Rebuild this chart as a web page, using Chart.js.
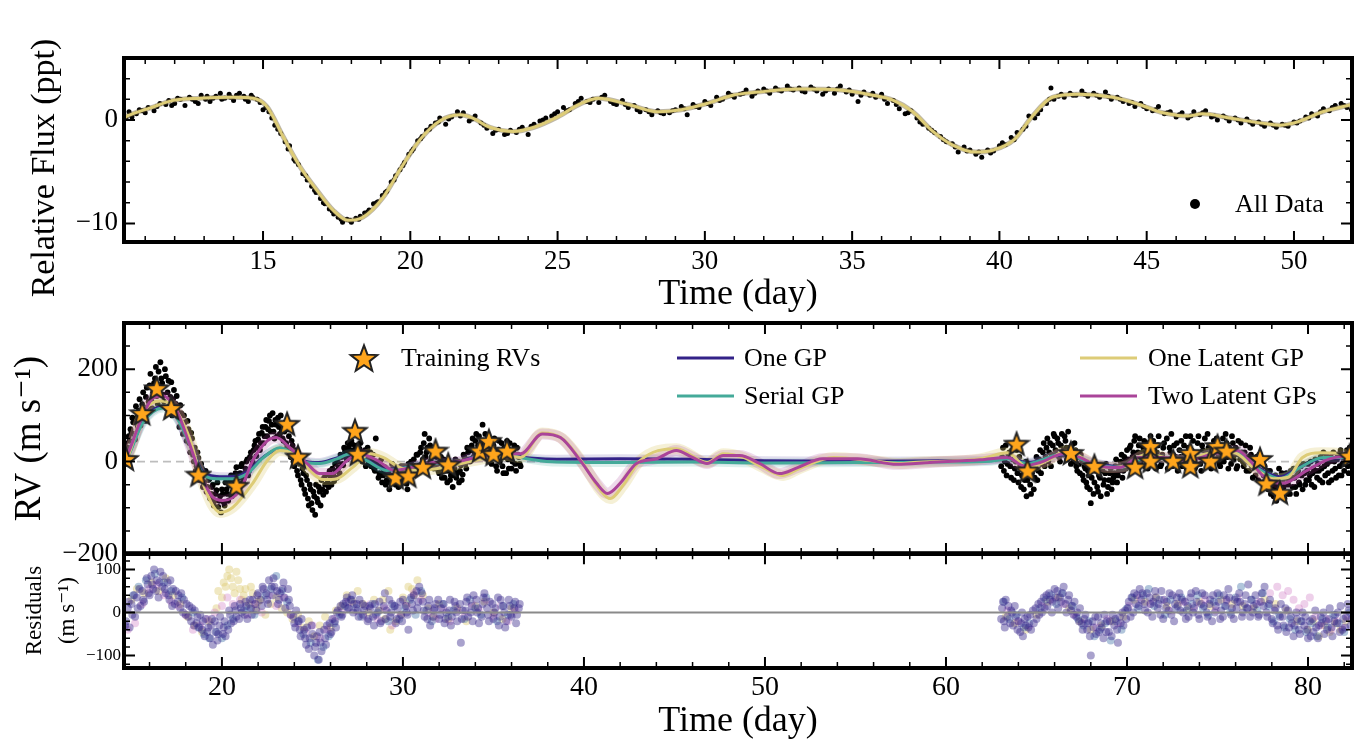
<!DOCTYPE html>
<html>
<head>
<meta charset="utf-8">
<title>Flux and RV GP fits</title>
<script src="https://cdn.jsdelivr.net/npm/chart.js@4.4.0/dist/chart.umd.min.js"></script>
<style>
  body { margin: 0; background: #fff; width: 1369px; height: 743px; overflow: hidden; position: relative; }
  canvas { position: absolute; left: 0; }
  #fluxChart { top: 0; }
  #rvChart { top: 300px; }
  #resChart { top: 540px; }
</style>
</head>
<body>
<canvas id="fluxChart" width="1369" height="320"></canvas>
<canvas id="rvChart" width="1369" height="280"></canvas>
<canvas id="resChart" width="1369" height="203"></canvas>
<script>
// ---- photometry (ppt) ----
var fluxData = [[10.35,0.2],[10.45,0.8],[10.55,0.3],[10.7,0.6],[10.9,0.9],[11.1,1.2],[11.3,0.9],[11.5,1.6],[11.7,1.5],[11.8,1.9],[12.0,1.6],[12.2,2.0],[12.35,1.4],[12.5,2.2],[12.7,1.8],[12.9,2.4],[13.05,2.0],[13.2,1.8],[13.4,2.3],[13.55,2.6],[13.7,2.1],[13.85,2.5],[14.0,1.9],[14.2,2.6],[14.35,2.3],[14.5,1.8],[14.65,2.2],[14.8,2.0],[15.0,1.0],[15.2,0.8],[15.4,-0.5],[15.6,-1.3],[15.75,-2.1],[15.9,-2.5],[16.05,-3.8],[16.2,-4.3],[16.35,-5.2],[16.5,-5.8],[16.65,-6.4],[16.8,-7.0],[16.95,-7.6],[17.1,-8.1],[17.25,-8.6],[17.4,-9.1],[17.55,-9.4],[17.7,-9.9],[17.85,-9.6],[18.0,-9.9],[18.15,-9.5],[18.3,-9.3],[18.45,-9.0],[18.6,-8.7],[18.75,-8.1],[18.9,-7.9],[19.05,-7.3],[19.2,-6.9],[19.35,-6.0],[19.5,-5.4],[19.65,-4.8],[19.8,-4.1],[19.95,-3.3],[20.1,-2.8],[20.25,-2.0],[20.4,-1.6],[20.55,-1.0],[20.7,-0.6],[20.85,-0.3],[21.0,0.2],[21.2,-0.4],[21.4,0.3],[21.6,0.8],[21.8,0.7],[22.0,-0.1],[22.2,0.4],[22.4,-0.3],[22.6,-0.8],[22.8,-1.3],[23.0,-0.9],[23.2,-1.4],[23.4,-1.0],[23.6,-1.2],[23.8,-0.7],[24.0,-1.4],[24.2,-0.4],[24.4,-0.1],[24.6,0.2],[24.8,0.4],[25.0,0.8],[25.2,1.2],[25.4,1.0],[25.6,1.6],[25.8,2.1],[26.0,1.8],[26.2,2.0],[26.4,1.7],[26.6,2.4],[26.8,1.8],[27.0,1.5],[27.2,1.9],[27.4,1.2],[27.6,1.4],[27.8,0.8],[28.0,1.0],[28.2,0.5],[28.4,0.9],[28.6,0.6],[28.8,0.7],[29.0,1.0],[29.2,1.3],[29.4,0.5],[29.6,1.5],[29.8,1.2],[30.0,1.8],[30.2,1.4],[30.4,2.2],[30.6,2.0],[30.8,2.6],[31.0,2.2],[31.2,2.5],[31.4,2.9],[31.6,2.3],[31.8,2.8],[32.0,3.0],[32.2,2.6],[32.4,3.1],[32.6,2.8],[32.8,3.3],[33.0,2.9],[33.2,3.1],[33.4,2.7],[33.6,3.2],[33.8,2.8],[34.0,2.5],[34.2,3.0],[34.4,2.6],[34.6,3.3],[34.8,2.7],[35.0,2.5],[35.2,1.8],[35.4,2.7],[35.6,2.4],[35.8,2.2],[36.0,2.5],[36.2,1.6],[36.4,1.9],[36.6,1.1],[36.8,0.6],[37.0,0.9],[37.2,0.2],[37.4,-0.4],[37.6,-0.8],[37.8,-1.2],[38.0,-1.6],[38.2,-2.1],[38.4,-2.3],[38.6,-3.1],[38.8,-2.6],[39.0,-2.9],[39.2,-3.3],[39.4,-3.6],[39.6,-2.9],[39.8,-3.0],[40.0,-2.5],[40.2,-2.4],[40.4,-1.7],[40.6,-1.2],[40.8,-0.9],[41.0,0.4],[41.2,0.2],[41.4,1.0],[41.6,1.6],[41.75,3.1],[41.85,2.0],[42.0,2.3],[42.2,2.2],[42.4,2.6],[42.6,2.4],[42.8,2.8],[43.0,2.3],[43.2,2.6],[43.4,2.2],[43.6,2.7],[43.8,2.0],[44.0,2.2],[44.2,1.8],[44.4,1.6],[44.6,1.3],[44.8,1.6],[45.0,1.1],[45.2,0.9],[45.4,1.3],[45.6,0.6],[45.8,0.8],[46.0,0.3],[46.2,0.7],[46.4,0.2],[46.6,0.8],[46.8,0.5],[47.0,0.9],[47.2,0.3],[47.4,0.0],[47.6,0.4],[47.8,-0.1],[48.0,0.2],[48.2,-0.3],[48.4,0.1],[48.6,-0.4],[48.8,-0.2],[49.0,-0.6],[49.2,-0.3],[49.4,-0.7],[49.6,-0.4],[49.8,-0.6],[50.0,-0.2],[50.2,-0.1],[50.4,0.3],[50.6,0.6],[50.8,0.4],[51.0,1.1],[51.2,0.9],[51.4,1.4],[51.6,1.6],[51.8,1.2],[51.95,1.0],
  [10.5,0.5],[10.8,1.0],[11.0,0.7],[11.4,1.3],[11.9,1.4],[12.1,2.1],[12.6,2.0],[12.8,1.6],[13.1,2.3],[13.3,2.1],[13.6,2.0],[13.9,2.2],[14.1,2.4],[14.4,2.0],[14.6,2.4],[14.9,1.7],[15.1,1.2],[15.3,0.2],[15.5,-0.9],[15.85,-2.8],[16.1,-4.0],[16.45,-5.4],[16.75,-6.8],[17.05,-8.0],[17.35,-8.8],[17.65,-9.6],[17.95,-9.7],[18.25,-9.6],[18.55,-8.9],[18.85,-8.0],[19.15,-7.0],[19.45,-5.8],[19.75,-4.4],[20.05,-3.0],[20.35,-1.8],[20.65,-0.9],[20.95,-0.2],[21.3,0.1],[21.7,0.4],[22.1,0.1],[22.5,-0.5],[22.9,-1.0],[23.3,-1.3],[23.7,-0.9],[24.1,-0.6],[24.5,0.0],[24.9,0.6],[25.3,0.9],[25.7,1.8],[26.1,1.7],[26.5,2.2],[26.9,1.6],[27.3,1.5],[27.7,1.0],[28.1,0.8],[28.5,0.7],[28.9,0.9],[29.3,1.1],[29.7,1.3],[30.1,1.6],[30.5,1.9],[30.9,2.4],[31.3,2.6],[31.7,2.6],[32.1,2.8],[32.5,2.9],[32.9,3.0],[33.3,2.8],[33.7,3.0],[34.1,2.8],[34.5,3.0],[34.9,2.9],[35.3,2.4],[35.7,2.6],[36.1,2.0],[36.5,1.5],[36.9,0.7],[37.3,-0.2],[37.7,-1.0],[38.1,-1.9],[38.5,-2.6],[38.9,-3.0],[39.3,-3.1],[39.7,-3.2],[40.1,-2.2],[40.5,-1.9],[40.9,-0.6],[41.3,0.6],[41.7,2.0],[42.1,2.5],[42.5,2.4],[42.9,2.5],[43.3,2.4],[43.7,2.3],[44.1,2.0],[44.5,1.7],[44.9,1.3],[45.3,1.0],[45.7,0.7],[46.1,0.5],[46.5,0.4],[46.9,0.7],[47.3,0.4],[47.7,0.2],[48.1,0.0],[48.5,-0.2],[48.9,-0.4],[49.3,-0.5],[49.7,-0.5],[50.1,-0.3],[50.5,0.2],[50.9,0.8],[51.3,1.2],[51.7,1.4]];
var fluxModel = [[10.28,0.2],[10.4,0.4],[11.2,1.2],[11.95,1.9],[12.86,2.1],[13.98,2.2],[14.66,2.1],[15.13,1.3],[15.68,-1.6],[16.25,-4.5],[16.83,-6.8],[17.37,-8.7],[17.88,-9.7],[18.39,-9.4],[19.07,-7.5],[19.65,-4.8],[20.33,-1.9],[21.0,-0.1],[21.7,0.5],[22.1,0.2],[22.7,-0.7],[23.5,-1.1],[24.2,-0.7],[25.0,0.3],[25.8,1.6],[26.4,2.1],[27.4,1.5],[28.4,0.8],[29.2,1.0],[30.07,1.6],[30.95,2.4],[31.8,2.7],[33.2,3.0],[34.6,2.9],[35.7,2.4],[36.4,1.9],[37.06,0.8],[37.7,-1.0],[38.4,-2.4],[39.2,-3.1],[39.8,-2.9],[40.5,-1.9],[41.1,0.3],[41.8,2.2],[42.7,2.5],[43.85,2.2],[44.75,1.5],[45.55,0.7],[46.4,0.4],[46.9,0.6],[47.8,0.2],[48.9,-0.3],[49.5,-0.5],[50.1,-0.2],[50.98,0.8],[51.97,1.5]];

// ---- radial velocities (m/s), two observing seasons ----
var rvSeason1 = [[14.6,18],[14.7,-5],[14.8,30],[14.9,45],[15.0,62],[15.1,85],[15.2,48],[15.3,95],[15.4,110],[15.5,78],[15.6,124],[15.7,102],[15.8,140],[15.9,118],[16.0,165],[16.1,132],[16.2,150],[16.3,180],[16.4,142],[16.5,195],[16.55,160],[16.6,215],[16.7,170],[16.8,130],[16.9,185],[17.0,150],[17.1,120],[17.2,172],[17.3,135],[17.4,105],[17.5,142],[17.6,95],[17.7,122],[17.8,80],[17.9,100],[18.0,65],[18.1,88],[18.2,40],[18.3,62],[18.4,15],[18.5,30],[18.6,-10],[18.7,8],[18.8,-30],[18.9,-15],[19.0,-45],[19.1,-20],[19.2,-55],[19.3,-38],[19.4,-70],[19.5,-50],[19.6,-85],[19.7,-62],[19.8,-98],[19.9,-75],[20.0,-60],[20.1,-88],[20.2,-45],[20.3,-70],[20.4,-52],[20.5,-30],[20.6,-65],[20.7,-40],[20.8,-12],[20.9,-48],[21.0,-25],[21.1,-5],[21.2,-38],[21.3,-15],[21.4,5],[21.5,-20],[21.6,20],[21.7,-2],[21.8,35],[21.9,12],[22.0,48],[22.1,25],[22.2,62],[22.3,40],[22.4,75],[22.5,55],[22.6,88],[22.7,65],[22.8,105],[22.9,50],[23.0,80],[23.1,95],[23.2,60],[23.3,70],[23.4,45],[23.5,85],[23.6,30],[23.7,55],[23.8,10],[23.9,35],[24.0,-10],[24.1,20],[24.2,-30],[24.3,-5],[24.4,-50],[24.5,-25],[24.6,-70],[24.7,-40],[24.8,-95],[24.9,-60],[25.0,-105],[25.1,-75],[25.2,-50],[25.3,-88],[25.4,-65],[25.5,-40],[25.6,-72],[25.7,-50],[25.8,-28],[25.9,-55],[26.0,-35],[26.1,-15],[26.2,-42],[26.3,-20],[26.4,0],[26.5,-25],[26.6,10],[26.7,-8],[26.8,22],[26.9,5],[27.0,30],[27.1,15],[27.2,38],[27.3,20],[27.4,32],[27.5,10],[27.6,28],[27.7,18],[27.8,5],[27.9,25],[28.0,12],[28.1,-5],[28.2,20],[28.3,2],[28.4,-15],[28.5,50],[28.6,-10],[28.7,-25],[28.8,5],[28.9,-30],[29.0,-12],[29.1,-40],[29.2,-20],[29.3,-45],[29.4,-5],[29.5,-35],[29.6,-50],[29.7,-25],[29.8,-42],[29.9,-10],[30.0,-38],[30.1,-20],[30.2,-48],[30.3,-5],[30.4,-30],[30.5,-15],[30.6,5],[30.7,-25],[30.8,15],[30.9,-8],[31.0,30],[31.1,5],[31.2,60],[31.3,20],[31.4,-5],[31.5,35],[31.6,10],[31.7,-15],[31.8,25],[31.9,-5],[32.0,-25],[32.1,10],[32.2,-15],[32.3,-35],[32.4,0],[32.5,-20],[32.6,-40],[32.7,-10],[32.8,-30],[32.9,5],[33.0,-25],[33.1,-45],[33.2,-8],[33.3,-28],[33.4,10],[33.5,-15],[33.6,20],[33.7,0],[33.8,35],[33.9,10],[34.0,45],[34.1,20],[34.2,55],[34.3,30],[34.4,80],[34.5,40],[34.6,15],[34.7,55],[34.8,25],[34.9,-5],[35.0,35],[35.1,10],[35.2,-20],[35.3,45],[35.4,15],[35.5,-10],[35.6,30],[35.7,-25],[35.8,5],[35.9,40],[36.0,-15],[36.1,20],[36.2,-5],[36.3,30],[36.4,10],[36.5,-10],
  [14.65,40],[14.75,20],[14.85,55],[14.95,70],[15.05,95],[15.15,60],[15.25,120],[15.35,75],[15.45,135],[15.55,100],[15.65,150],[15.75,88],[15.85,160],[15.95,130],[16.05,190],[16.15,115],[16.25,170],[16.35,205],[16.45,125],[16.65,180],[16.75,145],[16.85,200],[16.95,115],[17.05,175],[17.15,140],[17.25,100],[17.35,155],[17.45,125],[17.55,110],[17.65,75],[17.75,105],[17.85,60],[17.95,85],[18.05,45],[18.15,70],[18.25,20],[18.35,50],[18.45,0],[18.55,-20],[18.65,20],[18.75,-40],[18.85,-5],[18.95,-55],[19.05,-30],[19.15,-65],[19.25,-40],[19.35,-80],[19.45,-55],[19.55,-95],[19.65,-70],[19.75,-45],[19.85,-85],[19.95,-110],[20.05,-70],[20.15,-95],[20.25,-60],[20.35,-85],[20.45,-40],[20.55,-75],[20.65,-50],[20.75,-25],[20.85,-60],[20.95,-35],[21.05,-10],[21.15,-45],[21.25,-25],[21.35,0],[21.45,-30],[21.55,10],[21.65,-10],[21.75,25],[21.85,45],[21.95,30],[22.05,60],[22.15,40],[22.25,75],[22.35,55],[22.45,90],[22.55,70],[22.65,100],[22.75,80],[22.85,65],[22.95,90],[23.05,55],[23.15,75],[23.25,100],[23.35,50],[23.45,65],[23.55,40],[23.65,70],[23.75,20],[23.85,45],[23.95,0],[24.05,25],[24.15,-20],[24.25,10],[24.35,-40],[24.45,-15],[24.55,-60],[24.65,-30],[24.75,-80],[24.85,-50],[24.95,-90],[25.05,-65],[25.15,-115],[25.25,-80],[25.35,-55],[25.45,-95],[25.55,-60],[25.65,-35],[25.75,-65],[25.85,-45],[25.95,-20],[26.05,-50],[26.15,-30],[26.25,-5],[26.35,-35],[26.45,-12],[26.55,15],[26.65,-5],[26.75,30],[26.85,10],[26.95,40],[27.05,20],[27.15,45],[27.25,25],[27.35,5],[27.45,35],[27.55,15],[27.65,40],[27.75,0],[27.85,20],[27.95,-10],[28.05,30],[28.15,10],[28.25,-10],[28.35,15],[28.45,-20],[28.55,0],[28.65,-35],[28.75,-10],[28.85,-45],[28.95,-20],[29.05,-50],[29.15,-25],[29.25,-60],[29.35,-30],[29.45,-15],[29.55,-45],[29.65,-30],[29.75,-55],[29.85,-20],[29.95,-45],[30.05,-10],[30.15,-35],[30.25,-60],[30.35,-25],[30.45,0],[30.55,-30],[30.65,-10],[30.75,15],[30.85,-15],[30.95,20],[31.05,-5],[31.15,40],[31.25,10],[31.35,30],[31.45,50],[31.55,0],[31.65,25],[31.75,-10],[31.85,10],[31.95,-20],[32.05,0],[32.15,-35],[32.25,5],[32.35,-20],[32.45,-45],[32.55,-10],[32.65,-30],[32.75,-55],[32.85,-15],[32.95,-35],[33.05,0],[33.15,-20],[33.25,-40],[33.35,15],[33.45,-5],[33.55,30],[33.65,5],[33.75,25],[33.85,50],[33.95,20],[34.05,60],[34.15,35],[34.25,10],[34.35,45],[34.45,20],[34.55,60],[34.65,30],[34.75,0],[34.85,40],[34.95,15],[35.05,50],[35.15,-10],[35.25,25],[35.35,0],[35.45,40],[35.55,-25],[35.65,10],[35.75,45],[35.85,-15],[35.95,20],[36.05,0],[36.15,35],[36.25,-20],[36.35,15],[36.45,-5]];
var rvSeason2 = [[63.1,10],[63.2,-20],[63.3,35],[63.4,-5],[63.5,20],[63.6,-35],[63.7,5],[63.8,-15],[63.9,25],[64.0,-45],[64.1,-10],[64.2,-30],[64.3,-60],[64.4,0],[64.5,-40],[64.6,-20],[64.7,-70],[64.8,-5],[64.9,-35],[65.0,10],[65.1,-20],[65.2,25],[65.3,-5],[65.4,40],[65.5,10],[65.6,50],[65.7,20],[65.8,-10],[65.9,35],[66.0,55],[66.1,15],[66.2,40],[66.3,0],[66.4,60],[66.5,25],[66.6,45],[66.7,5],[66.8,30],[66.9,-5],[67.0,20],[67.1,40],[67.2,-10],[67.3,10],[67.4,-25],[67.5,5],[67.6,-40],[67.7,-15],[67.8,-55],[67.9,-30],[68.0,-90],[68.1,-5],[68.2,-45],[68.3,-20],[68.4,-65],[68.5,-35],[68.6,-10],[68.7,-50],[68.8,-25],[68.9,-70],[69.0,-40],[69.1,-15],[69.2,-45],[69.3,-25],[69.4,5],[69.5,-30],[69.6,-10],[69.7,15],[69.8,-20],[69.9,0],[70.0,25],[70.1,-5],[70.2,35],[70.3,10],[70.4,45],[70.5,-10],[70.6,20],[70.7,50],[70.8,5],[70.9,30],[71.0,-10],[71.1,40],[71.2,15],[71.3,55],[71.4,0],[71.5,25],[71.6,-15],[71.7,35],[71.8,10],[71.9,-5],[72.0,30],[72.2,50],[72.3,5],[72.4,20],[72.5,-10],[72.6,35],[72.7,10],[72.8,-20],[72.9,25],[73.0,45],[73.1,0],[73.2,15],[73.3,-15],[73.4,30],[73.5,55],[73.6,5],[73.7,20],[73.8,-10],[73.9,40],[74.0,10],[74.1,-20],[74.2,25],[74.3,50],[74.4,0],[74.5,30],[74.6,-10],[74.7,15],[74.8,45],[74.9,5],[75.0,35],[75.1,-5],[75.2,20],[75.3,50],[75.4,10],[75.5,40],[75.6,-15],[75.7,25],[75.8,55],[75.9,5],[76.0,30],[76.1,-10],[76.2,15],[76.3,40],[76.4,0],[76.5,20],[76.6,-20],[76.7,10],[76.8,30],[76.9,-10],[77.0,5],[77.1,-30],[77.2,-5],[77.3,15],[77.4,-20],[77.5,-45],[77.6,-10],[77.7,-35],[77.8,-60],[77.9,-20],[78.0,-50],[78.1,-75],[78.2,-30],[78.3,-55],[78.4,-15],[78.5,-65],[78.6,-40],[78.7,-80],[78.8,-25],[78.9,-50],[79.0,-70],[79.1,-35],[79.2,-15],[79.3,-55],[79.4,-30],[79.5,-45],[79.6,-10],[79.7,-60],[79.8,-25],[79.9,-40],[80.0,-5],[80.1,-30],[80.2,-50],[80.3,-15],[80.4,5],[80.5,-35],[80.6,-20],[80.7,10],[80.8,-45],[80.9,-10],[81.0,15],[81.1,-25],[81.2,0],[81.3,-40],[81.4,20],[81.5,-15],[81.6,5],[81.7,-30],[81.8,25],[81.9,-5],[82.0,-20],[82.1,15],[82.2,-10],[82.3,30],[82.4,0],
  [63.05,-10],[63.15,30],[63.25,0],[63.35,-30],[63.45,15],[63.55,-10],[63.65,25],[63.75,-40],[63.85,0],[63.95,-25],[64.05,10],[64.15,-55],[64.25,-15],[64.35,-40],[64.45,-75],[64.55,-10],[64.65,-50],[64.75,-25],[64.85,-60],[64.95,-15],[65.05,-40],[65.15,5],[65.25,-25],[65.35,20],[65.45,-10],[65.55,30],[65.65,0],[65.75,40],[65.85,15],[65.95,60],[66.05,25],[66.15,50],[66.25,10],[66.35,35],[66.45,15],[66.55,55],[66.65,30],[66.75,65],[66.85,10],[66.95,35],[67.05,0],[67.15,25],[67.25,-20],[67.35,-5],[67.45,15],[67.55,-30],[67.65,-10],[67.75,-45],[67.85,-20],[67.95,-60],[68.05,-35],[68.15,-70],[68.25,-15],[68.35,-55],[68.45,-30],[68.55,-75],[68.65,-20],[68.75,-40],[68.85,-5],[68.95,-55],[69.05,-25],[69.15,-60],[69.25,-35],[69.35,-10],[69.45,-45],[69.55,-20],[69.65,0],[69.75,-35],[69.85,10],[69.95,-15],[70.05,5],[70.15,30],[70.25,-15],[70.35,20],[70.45,55],[70.55,5],[70.65,35],[70.75,-5],[70.85,20],[70.95,45],[71.05,10],[71.15,-15],[71.25,30],[71.35,5],[71.45,45],[71.55,-10],[71.65,20],[71.75,55],[71.85,-10],[71.95,15],[72.05,40],[72.15,5],[72.25,-15],[72.35,30],[72.45,60],[72.55,15],[72.65,-5],[72.75,40],[72.85,0],[72.95,10],[73.05,-10],[73.15,35],[73.25,55],[73.35,10],[73.45,-5],[73.55,25],[73.65,45],[73.75,-15],[73.85,15],[73.95,55],[74.05,-5],[74.15,35],[74.25,5],[74.35,20],[74.45,60],[74.55,10],[74.65,-15],[74.75,30],[74.85,5],[74.95,50],[75.05,15],[75.15,-10],[75.25,35],[75.35,0],[75.45,60],[75.55,10],[75.65,30],[75.75,-5],[75.85,40],[75.95,15],[76.05,-15],[76.15,45],[76.25,5],[76.35,20],[76.45,-10],[76.55,35],[76.65,0],[76.75,-20],[76.85,15],[76.95,-35],[77.05,-10],[77.15,10],[77.25,-40],[77.35,-20],[77.45,5],[77.55,-30],[77.65,-55],[77.75,-20],[77.85,-45],[77.95,-70],[78.05,-35],[78.15,-55],[78.25,-85],[78.35,-40],[78.45,-60],[78.55,-25],[78.65,-55],[78.75,-35],[78.85,-70],[78.95,-40],[79.05,-20],[79.15,-55],[79.25,-35],[79.35,-70],[79.45,-20],[79.55,-50],[79.65,-30],[79.75,-5],[79.85,-50],[79.95,-20],[80.05,-40],[80.15,0],[80.25,-25],[80.35,-55],[80.45,-20],[80.55,-5],[80.65,-40],[80.75,-15],[80.85,20],[80.95,-30],[81.05,-5],[81.15,-45],[81.25,10],[81.35,-20],[81.45,0],[81.55,-35],[81.65,15],[81.75,-10],[81.85,-30],[81.95,10],[82.05,-5],[82.15,25],[82.25,-25],[82.35,5]];
var trainingRV = [[14.7,6],[15.6,105],[16.4,159],[17.2,116],[18.7,-28],[20.8,-52],[23.6,82],[24.2,11],[27.35,67],[27.5,17],[29.6,-34],[30.3,-30],[31.1,-11],[31.8,24],[32.5,-6],[34.25,24],[34.75,45],[35.0,17],[35.75,24],[63.9,39],[64.5,-19],[66.9,19],[68.2,-9],[70.45,-11],[71.3,34],[71.3,2],[72.55,2],[73.5,19],[73.5,-9],[74.6,2],[75.0,34],[75.5,24],[77.35,6],[77.7,-47],[78.45,-67],[82.3,13]];

// GP predictions
var oneGP = [[14.6,2],[14.8,12],[15.6,85],[16.75,120],[17.5,98],[18.2,40],[18.95,-22],[19.7,-32],[20.6,-33],[21.4,-22],[22.3,10],[23.2,28],[23.9,15],[24.7,0],[25.4,-2],[26.35,8],[27.1,16],[28.0,3],[29.1,-17],[30.2,-12],[31.7,-3],[33.15,0],[33.9,10],[35.75,16],[36.5,10],[37.2,7],[38.5,5],[42,6],[46,5],[50,2],[55,1],[60,2],[62.5,3],[63.4,8],[64.5,-2],[66.5,15],[68.1,-2],[69.6,-11],[71.1,8],[72.9,5],[74.8,18],[75.9,22],[77.0,-7],[78.45,-33],[79.55,-12],[80.85,8],[82.43,8]];
var serialGP = [[14.6,0],[14.8,10],[15.6,82],[16.75,116],[17.5,95],[18.2,39],[18.95,-26],[19.7,-37],[20.6,-37],[21.4,-26],[22.3,9],[23.2,30],[23.9,17],[24.7,-2],[25.4,-4],[26.35,6],[27.1,17],[28.0,2],[29.1,-19],[30.2,-13],[31.7,-4],[33.15,-2],[33.9,9],[35.75,17],[36.5,9],[37.2,4],[38.5,-1],[42,-2],[46,-1],[50,-3],[55,-2],[60,-1],[62.5,1],[63.4,6],[64.5,-4],[66.5,17],[68.1,-4],[69.6,-13],[71.1,9],[72.9,4],[74.8,19],[75.9,24],[77.0,-9],[78.45,-37],[79.55,-13],[80.85,9],[82.43,9]];
var oneLatentGP = [[14.6,0],[14.8,10],[15.6,103],[16.6,131],[17.3,120],[18.2,52],[18.95,-47],[19.9,-110],[20.6,-99],[21.7,-47],[22.5,2],[23.2,24],[23.9,17],[24.7,-13],[25.6,-39],[26.35,-37],[27.2,-13],[28.2,17],[28.9,9],[29.85,-13],[30.95,-19],[32.2,-13],[33.9,2],[35.75,13],[36.5,9],[37.7,62],[38.8,50],[39.95,-4],[40.9,-62],[41.45,-80],[42.15,-52],[43.1,2],[45.1,28],[46.8,-2],[47.7,17],[48.8,9],[49.9,-13],[51.0,-30],[51.9,-15],[53.8,9],[55.95,2],[57.5,-4],[58.2,-2],[61.9,6],[63.4,19],[64.5,-13],[65.6,2],[66.7,24],[67.8,2],[68.9,-13],[70.0,-9],[71.1,17],[72.9,2],[74.8,19],[75.9,19],[77.0,-13],[78.1,-37],[78.9,-34],[79.7,9],[80.7,19],[81.8,17],[82.43,10]];
var twoLatentGPs = [[14.6,5],[14.8,17],[15.5,88],[16.2,138],[16.75,142],[17.5,110],[18.2,39],[18.8,-26],[19.5,-77],[20.05,-84],[21.0,-62],[21.7,2],[22.5,45],[23.0,52],[23.75,30],[24.7,-4],[25.4,-26],[26.1,-26],[26.9,2],[27.6,17],[28.6,2],[29.5,-19],[30.4,-13],[31.7,-2],[32.5,-4],[33.9,8],[35.75,17],[36.5,17],[37.7,60],[38.7,52],[39.8,2],[40.7,-47],[41.3,-69],[42.0,-47],[42.9,-4],[44.0,6],[45.1,24],[46.0,9],[46.8,-4],[47.7,13],[48.6,13],[49.7,-4],[50.8,-26],[51.8,-13],[53.2,6],[55.1,6],[57.3,-6],[59.1,-2],[61.9,4],[63.4,9],[64.3,-9],[65.2,-2],[66.5,17],[67.4,9],[68.35,-9],[69.6,-13],[70.7,9],[72.0,9],[73.3,2],[74.8,17],[76.1,24],[76.8,2],[77.5,-30],[78.6,-47],[79.95,-19],[81.2,6],[82.43,13]];

// residuals (m/s)
var resOneGP = [[14.7,-20],[14.8,10],[14.9,-35],[15.0,20],[15.2,-10],[15.3,35],[15.5,15],[15.6,50],[15.7,25],[15.9,65],[16.0,40],[16.1,85],[16.2,55],[16.4,75],[16.5,35],[16.6,95],[16.7,60],[16.9,45],[17.0,70],[17.1,30],[17.3,55],[17.4,20],[17.6,40],[17.7,10],[17.9,30],[18.0,-5],[18.2,15],[18.3,-20],[18.5,5],[18.6,-25],[18.8,-5],[18.9,-40],[19.1,-15],[19.2,-45],[19.4,-30],[19.5,-75],[19.6,-20],[19.8,-50],[19.9,-10],[20.1,-35],[20.2,-55],[20.4,5],[20.5,-25],[20.7,15],[20.8,-10],[21.0,20],[21.1,0],[21.3,25],[21.4,-15],[21.6,10],[21.7,30],[21.9,5],[22.0,45],[22.2,15],[22.3,55],[22.5,30],[22.6,75],[22.8,40],[22.9,60],[23.1,20],[23.2,45],[23.4,70],[23.5,10],[23.7,30],[23.8,-5],[24.0,-25],[24.1,5],[24.3,-40],[24.4,-15],[24.6,-60],[24.7,-35],[24.8,-85],[25.0,-50],[25.1,-100],[25.2,-70],[25.4,-45],[25.5,-90],[25.7,-60],[25.8,-30],[26.0,-50],[26.1,-15],[26.3,-35],[26.4,5],[26.6,-10],[26.7,20],[26.9,35],[27.0,10],[27.2,40],[27.3,20],[27.5,5],[27.6,30],[27.8,-5],[27.9,15],[28.1,-15],[28.2,10],[28.4,-30],[28.5,-5],[28.7,25],[28.8,-20],[29.0,45],[29.1,5],[29.3,-10],[29.4,20],[29.6,-25],[29.7,10],[29.9,-5],[30.0,30],[30.2,0],[30.3,-40],[30.5,20],[30.6,40],[30.8,10],[30.9,60],[31.1,25],[31.2,-10],[31.4,15],[31.5,-30],[31.7,5],[31.8,20],[32.0,-15],[32.1,10],[32.3,-25],[32.4,0],[32.6,30],[32.7,-10],[32.9,15],[33.0,-20],[33.2,-70],[33.3,5],[33.5,25],[33.6,-10],[33.8,15],[33.9,40],[34.1,0],[34.2,-25],[34.4,20],[34.5,45],[34.7,-5],[34.8,25],[35.0,-15],[35.1,10],[35.3,-30],[35.4,30],[35.6,0],[35.7,-20],[35.9,15],[36.0,-10],[36.2,25],[36.3,-5],[36.4,10],
  [14.65,-30],[14.85,25],[15.05,-5],[15.15,40],[15.35,10],[15.45,55],[15.65,30],[15.85,80],[15.95,45],[16.15,65],[16.25,100],[16.35,50],[16.55,70],[16.75,85],[16.85,55],[17.05,40],[17.15,75],[17.25,15],[17.45,50],[17.55,25],[17.75,45],[17.85,0],[18.05,20],[18.15,-10],[18.35,10],[18.45,-30],[18.65,-10],[18.75,-35],[18.95,-20],[19.05,-55],[19.25,-35],[19.35,-60],[19.45,-15],[19.65,-45],[19.75,-65],[19.85,-30],[20.05,-50],[20.15,-20],[20.35,-40],[20.45,-5],[20.65,-20],[20.75,5],[20.95,-15],[21.05,10],[21.25,-5],[21.35,15],[21.55,30],[21.65,-5],[21.85,20],[21.95,40],[22.15,30],[22.25,60],[22.45,45],[22.55,20],[22.75,60],[22.85,80],[23.05,50],[23.15,30],[23.35,55],[23.45,35],[23.65,55],[23.75,15],[23.95,-10],[24.05,-35],[24.25,-20],[24.35,-55],[24.55,-40],[24.65,-75],[24.85,-60],[24.95,-30],[25.15,-80],[25.25,-55],[25.35,-110],[25.45,-70],[25.65,-40],[25.75,-75],[25.95,-25],[26.05,-45],[26.25,-20],[26.35,0],[26.55,15],[26.65,-5],[26.85,25],[26.95,10],[27.15,30],[27.25,0],[27.45,20],[27.55,-10],[27.75,20],[27.85,5],[28.05,-20],[28.15,15],[28.35,-10],[28.45,20],[28.65,5],[28.75,-25],[28.95,15],[29.05,-15],[29.25,30],[29.35,0],[29.55,15],[29.65,-15],[29.85,25],[29.95,-20],[30.15,15],[30.25,-5],[30.45,35],[30.55,5],[30.75,50],[30.85,25],[31.05,45],[31.15,5],[31.35,-15],[31.45,30],[31.65,-10],[31.75,10],[31.95,30],[32.05,-5],[32.25,20],[32.35,-15],[32.55,5],[32.65,-30],[32.85,25],[32.95,0],[33.15,20],[33.25,-15],[33.45,5],[33.55,35],[33.75,0],[33.85,-20],[34.05,30],[34.15,10],[34.35,-10],[34.45,35],[34.65,10],[34.75,-20],[34.95,20],[35.05,0],[35.25,35],[35.35,-10],[35.55,15],[35.65,-35],[35.85,30],[35.95,-5],[36.15,10],[36.25,-25],[36.45,20],
  [63.1,10],[63.2,-20],[63.3,30],[63.4,-10],[63.6,5],[63.7,-30],[63.8,15],[64.0,-20],[64.1,-45],[64.2,0],[64.4,-30],[64.5,-10],[64.7,-40],[64.8,5],[65.0,-15],[65.1,20],[65.3,0],[65.4,35],[65.6,15],[65.7,45],[65.9,25],[66.0,55],[66.2,10],[66.3,35],[66.5,60],[66.6,20],[66.8,40],[66.9,5],[67.1,25],[67.2,-10],[67.4,10],[67.5,-25],[67.7,-5],[67.8,-40],[68.0,-100],[68.1,-20],[68.3,-50],[68.4,-10],[68.6,-35],[68.7,-60],[68.9,-20],[69.0,-45],[69.2,-5],[69.3,-30],[69.5,-70],[69.6,-10],[69.8,-30],[69.9,5],[70.1,25],[70.2,-10],[70.4,45],[70.5,20],[70.7,55],[70.8,30],[71.0,5],[71.1,45],[71.3,20],[71.4,-10],[71.6,35],[71.7,10],[71.9,50],[72.0,-15],[72.2,25],[72.3,5],[72.5,40],[72.6,-20],[72.8,15],[72.9,45],[73.1,0],[73.2,25],[73.4,-10],[73.5,35],[73.7,10],[73.8,50],[74.0,-15],[74.1,20],[74.3,40],[74.4,0],[74.6,30],[74.7,-20],[74.9,15],[75.0,45],[75.2,5],[75.3,-10],[75.5,30],[75.6,55],[75.8,10],[75.9,-15],[76.1,25],[76.2,45],[76.4,0],[76.5,20],[76.7,65],[76.8,-10],[77.0,15],[77.1,40],[77.3,-5],[77.4,25],[77.6,60],[77.7,0],[77.9,30],[78.0,-15],[78.2,10],[78.3,-30],[78.5,20],[78.6,-10],[78.8,-45],[78.9,5],[79.1,-25],[79.2,-55],[79.4,-15],[79.5,-40],[79.7,0],[79.8,-30],[80.0,-60],[80.1,-20],[80.3,-45],[80.4,5],[80.6,-30],[80.7,-10],[80.9,-50],[81.0,-20],[81.2,10],[81.3,-35],[81.5,-5],[81.6,-25],[81.8,15],[81.9,-40],[82.1,-10],[82.2,20],[82.4,-15],
  [63.05,-15],[63.15,25],[63.25,-35],[63.45,15],[63.55,-25],[63.65,0],[63.85,-10],[63.95,-40],[64.15,-25],[64.25,-55],[64.35,-15],[64.55,-35],[64.65,-5],[64.85,-25],[64.95,10],[65.15,-5],[65.25,25],[65.45,10],[65.55,40],[65.75,30],[65.85,0],[66.05,35],[66.15,50],[66.35,25],[66.45,45],[66.65,0],[66.75,30],[66.95,15],[67.05,-5],[67.25,0],[67.35,-20],[67.55,-40],[67.65,-15],[67.85,-25],[67.95,-55],[68.15,-35],[68.25,-10],[68.45,-45],[68.55,-25],[68.75,-5],[68.85,-45],[69.05,-20],[69.15,-55],[69.35,-15],[69.45,-40],[69.65,-25],[69.75,0],[69.95,-15],[70.05,10],[70.25,35],[70.35,0],[70.55,40],[70.65,15],[70.85,45],[70.95,20],[71.15,0],[71.25,35],[71.45,25],[71.55,50],[71.75,20],[71.85,-5],[72.05,30],[72.15,10],[72.35,45],[72.45,-5],[72.65,20],[72.75,35],[72.95,5],[73.05,30],[73.25,-15],[73.35,15],[73.55,45],[73.65,0],[73.85,25],[73.95,-5],[74.15,45],[74.25,15],[74.45,-10],[74.55,20],[74.75,40],[74.85,0],[75.05,25],[75.15,-15],[75.35,40],[75.45,15],[75.65,35],[75.75,-5],[75.95,30],[76.05,10],[76.25,25],[76.35,-10],[76.55,40],[76.65,10],[76.85,30],[76.95,0],[77.15,20],[77.25,-10],[77.45,45],[77.55,15],[77.75,-10],[77.85,20],[78.05,-25],[78.15,5],[78.35,-40],[78.45,-10],[78.65,-30],[78.75,10],[78.95,-35],[79.05,-10],[79.25,-30],[79.35,0],[79.55,-50],[79.65,-20],[79.85,-10],[79.95,-40],[80.15,-55],[80.25,-15],[80.45,-35],[80.55,-60],[80.75,-25],[80.85,0],[81.05,-40],[81.15,-15],[81.35,-55],[81.45,-20],[81.65,0],[81.75,-45],[81.95,-15],[82.05,-35],[82.25,5],[82.35,-30]];
var resSerialGP = [[15.1,40],[15.4,60],[15.8,75],[16.3,90],[16.8,70],[17.2,50],[17.8,35],[18.4,0],[18.7,-35],[19.0,-50],[19.3,-60],[19.7,-45],[20.0,-60],[20.3,-30],[20.6,-15],[21.2,5],[21.5,10],[21.8,-5],[22.4,40],[22.7,55],[23.0,85],[23.3,50],[23.6,25],[24.2,-20],[24.5,-50],[24.9,-70],[25.3,-110],[25.6,-80],[25.9,-55],[26.2,-25],[26.5,-5],[26.8,15],[27.1,30],[27.4,10],[27.7,-10],[28.3,20],[28.6,0],[29.2,-20],[29.5,15],[29.8,-15],[30.1,10],[30.4,30],[30.7,-5],[31.0,50],[31.3,5],[31.6,-20],[32.2,20],[32.5,-10],[32.8,5],[33.4,-15],[33.7,30],[34.0,10],[34.3,-5],[34.6,35],[35.2,-20],[35.5,15],[35.8,-5],[36.1,20],
  [63.2,25],[63.5,-15],[63.9,-5],[64.3,-35],[64.6,-25],[65.2,10],[65.5,30],[65.8,40],[66.1,20],[66.4,45],[67.0,15],[67.3,-15],[67.6,-30],[67.9,-20],[68.2,-55],[68.5,-40],[68.8,-25],[69.1,-65],[69.4,-20],[69.7,-40],[70.0,10],[70.3,35],[70.6,10],[70.9,40],[71.2,55],[71.5,15],[71.8,30],[72.1,-5],[72.4,30],[72.7,10],[73.0,35],[73.3,5],[73.6,20],[73.9,40],[74.2,10],[74.5,-5],[74.8,25],[75.1,40],[75.4,15],[75.7,0],[76.0,35],[76.3,60],[76.6,10],[76.9,30],[77.2,5],[77.5,45],[77.8,15],[78.1,-20],[78.4,-5],[78.7,-35],[79.0,-15],[79.3,-40],[79.6,-20],[79.9,-45],[80.2,-25],[80.5,-55],[80.8,-15],[81.1,-35],[81.4,-5],[81.7,-25],[82.0,-45],[82.3,0]];
var resOneLatent = [[15.0,30],[15.3,55],[15.7,45],[16.1,70],[16.5,50],[16.9,80],[17.3,40],[17.7,20],[18.1,-10],[18.5,-30],[18.9,-45],[19.3,-20],[19.7,10],[20.0,35],[20.2,60],[20.4,100],[20.5,80],[20.7,45],[20.9,75],[21.1,30],[21.3,55],[21.5,20],[21.7,45],[21.9,10],[22.1,30],[22.4,-5],[22.7,20],[23.0,35],[23.3,10],[23.6,0],[23.9,-15],[24.2,-5],[24.5,-35],[24.8,-20],[25.1,-55],[25.4,-30],[25.7,-10],[26.0,-35],[26.3,5],[26.6,15],[26.9,40],[27.2,25],[27.5,50],[27.8,20],[28.1,0],[28.4,30],[28.7,5],[29.0,-15],[29.3,-40],[29.6,-20],[29.9,-5],[30.2,20],[30.5,55],[30.8,75],[31.1,40],[31.4,10],[31.7,-10],[32.0,20],[32.5,-15],[33.0,10],[33.5,-20],[34.0,15],[34.5,25],[35.0,0],[35.5,-15],[36.0,10],
  [19.8,50],[20.1,70],[20.3,85],[20.6,60],[20.8,95],[21.0,55],[21.2,40],[21.6,60],[22.0,25],[28.9,30],[29.2,50],[30.0,35],[30.3,60],[30.6,40],
  [63.3,-10],[63.8,-25],[64.4,-40],[65.0,-5],[65.6,25],[66.2,35],[66.8,10],[67.4,-20],[68.0,-40],[68.6,-30],[69.2,-20],[69.8,-10],[70.4,30],[71.0,25],[71.6,35],[72.2,15],[72.8,20],[73.4,10],[74.0,25],[74.6,15],[75.2,30],[75.8,20],[76.4,15],[77.0,10],[77.6,30],[78.2,20],[78.8,5],[79.4,-20],[80.0,-40],[80.3,-20],[80.6,-55],[80.9,-30],[81.2,-45],[81.5,-25],[81.8,-40],[82.1,-20]];
var resTwoLatent = [[14.8,-40],[15.2,-25],[15.6,20],[16.0,55],[16.4,65],[16.8,40],[17.2,25],[17.6,15],[18.0,-5],[18.4,-40],[18.8,-30],[19.2,-15],[19.6,0],[20.0,15],[20.3,35],[20.6,20],[21.0,30],[21.4,-5],[21.8,20],[22.2,0],[22.6,40],[23.0,15],[23.4,35],[23.8,-5],[24.2,-25],[24.6,-45],[25.0,-30],[25.4,-60],[25.8,-40],[26.2,-15],[26.6,0],[27.0,25],[27.4,5],[27.8,-10],[28.2,20],[28.6,-15],[29.0,10],[29.4,-30],[29.8,-10],[30.2,15],[30.6,45],[31.0,30],[31.4,0],[31.8,-15],[32.2,10],[32.6,-20],[33.0,5],[33.4,-10],[33.8,20],[34.2,5],[34.6,30],[35.0,-10],[35.4,15],[35.8,-20],[36.2,5],
  [63.4,5],[64.0,-20],[64.6,-30],[65.3,15],[65.9,30],[66.5,20],[67.1,-5],[67.7,-25],[68.3,-35],[68.9,-15],[69.5,-25],[70.1,15],[70.7,35],[71.3,20],[71.9,30],[72.5,5],[73.1,25],[73.7,15],[74.3,30],[74.9,5],[75.5,25],[76.1,35],[76.7,10],[77.3,25],[77.9,45],[78.3,60],[78.6,40],[78.9,50],[79.2,30],[79.5,10],[79.8,20],[80.1,35],[80.4,-10],[80.7,-30],[81.0,-15],[81.3,-40],[81.6,-20],[81.9,-35],[82.2,-10]];

var SERIF = "'Liberation Serif', 'Times New Roman', 'DejaVu Serif', serif";
Chart.defaults.font.family = SERIF;
Chart.defaults.color = '#000';
Chart.defaults.animation = false;

var INDIGO = '#332288', TEAL = '#44AA99', SAND = '#DDCC77', PURPLE = '#AA4499';

function toXY(arr) { return arr.map(function (p) { return { x: p[0], y: p[1] }; }); }
function minusFmt(v) { return v < 0 ? '\u2212' + Math.abs(v) : String(v); }

// filled five point star, like matplotlib's '*' marker
function starImage(size) {
    var c = document.createElement('canvas');
    c.width = c.height = size;
    var g = c.getContext('2d');
    var r = size / 2 - 2, ri = r * 0.42, cx = size / 2, cy = size / 2 + r * 0.1;
    g.beginPath();
    for (var i = 0; i < 10; i++) {
        var ang = -Math.PI / 2 + i * Math.PI / 5;
        var rr = i % 2 ? ri : r;
        g.lineTo(cx + rr * Math.cos(ang), cy + rr * Math.sin(ang));
    }
    g.closePath();
    g.fillStyle = '#FFA51C';
    g.fill();
    g.lineWidth = 2;
    g.lineJoin = 'miter';
    g.strokeStyle = '#222';
    g.stroke();
    return c;
}
var starPoint = starImage(28);
var starLegend = starImage(32);

// thick box with inward ticks on all four sides
var framePlugin = {
    id: 'frame',
    afterDatasetsDraw: function (chart, args, o) {
        var ctx = chart.ctx, a = chart.chartArea;
        ctx.save();
        ctx.strokeStyle = '#000';
        function marks(scale, minor, major, horiz) {
            var first = Math.ceil(scale.min / minor - 1e-9);
            var last = Math.floor(scale.max / minor + 1e-9);
            for (var k = first; k <= last; k++) {
                var v = k * minor;
                var isMajor = Math.abs(v / major - Math.round(v / major)) < 1e-6;
                var len = isMajor ? 11 : 6;
                ctx.lineWidth = isMajor ? 2 : 1.5;
                var p = scale.getPixelForValue(v);
                ctx.beginPath();
                if (horiz) {
                    ctx.moveTo(p, a.bottom); ctx.lineTo(p, a.bottom - len);
                    ctx.moveTo(p, a.top); ctx.lineTo(p, a.top + len);
                } else {
                    ctx.moveTo(a.left, p); ctx.lineTo(a.left + len, p);
                    ctx.moveTo(a.right, p); ctx.lineTo(a.right - len, p);
                }
                ctx.stroke();
            }
        }
        marks(chart.scales.x, o.xMinor, o.xMajor, true);
        marks(chart.scales.y, o.yMinor, o.yMajor, false);
        ctx.lineWidth = 4;
        ctx.strokeRect(a.left, a.top, a.right - a.left, a.bottom - a.top);
        ctx.restore();
    }
};

function drawZero(chart, o) {
    var ctx = chart.ctx, a = chart.chartArea;
    var p = chart.scales.y.getPixelForValue(0);
    ctx.save();
    ctx.strokeStyle = o.color;
    ctx.lineWidth = o.width;
    ctx.setLineDash(o.dash || []);
    ctx.beginPath();
    ctx.moveTo(a.left, p);
    ctx.lineTo(a.right, p);
    ctx.stroke();
    ctx.restore();
}
var zeroLinePlugin = {
    id: 'zeroLine',
    beforeDatasetsDraw: function (chart, args, o) { if (o.color && !o.above) drawZero(chart, o); },
    afterDatasetsDraw: function (chart, args, o) { if (o.color && o.above) drawZero(chart, o); }
};

// hand placed legend entries and the rotated flux label
var legendPlugin = {
    id: 'legendBox',
    afterDraw: function (chart, args, o) {
        var ctx = chart.ctx;
        ctx.save();
        if (o.vtitle) {
            ctx.save();
            ctx.font = o.vtitle.size + 'px ' + SERIF;
            ctx.textAlign = 'center';
            ctx.textBaseline = 'middle';
            ctx.fillStyle = '#000';
            ctx.translate(o.vtitle.x, o.vtitle.y);
            ctx.rotate(-Math.PI / 2);
            ctx.fillText(o.vtitle.text, 0, 0);
            ctx.restore();
        }
        ctx.font = '26px ' + SERIF;
        ctx.textBaseline = 'middle';
        (o.items || []).forEach(function (it) {
            if (it.kind === 'dot') {
                ctx.beginPath();
                ctx.arc(it.x, it.y, 5, 0, Math.PI * 2);
                ctx.fillStyle = '#000';
                ctx.fill();
            } else if (it.kind === 'star') {
                ctx.drawImage(starLegend, it.x - 16, it.y - 16);
            } else {
                ctx.strokeStyle = it.color;
                ctx.lineWidth = 3;
                ctx.beginPath();
                ctx.moveTo(it.x, it.y);
                ctx.lineTo(it.x + 57, it.y);
                ctx.stroke();
            }
            ctx.fillStyle = '#000';
            ctx.fillText(it.text, it.tx, it.y + 1);
        });
        ctx.restore();
    }
};

var plugins = [zeroLinePlugin, framePlugin, legendPlugin];

function lineSet(pairs, color, width, order) {
    return { data: toXY(pairs), showLine: true, borderColor: color, borderWidth: width,
             pointRadius: 0, cubicInterpolationMode: 'monotone', order: order };
}
function dotSet(pairs, color, radius, order) {
    return { data: toXY(pairs), showLine: false, backgroundColor: color, borderWidth: 0,
             pointRadius: radius, order: order };
}
function hiddenGrid() { return { display: false, drawTicks: false }; }

// ---------- top panel: photometry ----------
new Chart(document.getElementById('fluxChart'), {
    type: 'scatter',
    data: { datasets: [
        lineSet(fluxModel, SAND, 3, 0),
        lineSet(fluxModel, 'rgba(110,95,60,0.45)', 5, 1),
        dotSet(fluxData, '#000', 2.5, 2)
    ]},
    plugins: plugins,
    options: {
        responsive: false, devicePixelRatio: 1,
        layout: { padding: { top: 58, right: 17, bottom: 0, left: 0 } },
        plugins: {
            legend: { display: false }, tooltip: { enabled: false },
            frame: { xMinor: 1, xMajor: 5, yMinor: 2, yMajor: 10 },
            legendBox: {
                vtitle: { text: 'Relative Flux (ppt)', x: 45, y: 168, size: 34 },
                items: [ { kind: 'dot', x: 1195, y: 204, tx: 1235, text: 'All Data' } ]
            }
        },
        scales: {
            x: {
                type: 'linear', min: 10.28, max: 51.97,
                afterFit: function (s) { s.height = 78; },
                grid: hiddenGrid(), border: { display: false },
                ticks: { stepSize: 5, includeBounds: false, autoSkip: false, maxRotation: 0, padding: 4, font: { size: 27 } },
                title: { display: true, text: 'Time (day)', font: { size: 36, lineHeight: 1.2 }, padding: { top: 0, bottom: 4 } }
            },
            y: {
                min: -11.8, max: 6,
                afterFit: function (s) { s.width = 124; },
                grid: hiddenGrid(), border: { display: false },
                ticks: { stepSize: 10, includeBounds: false, padding: 6, font: { size: 27 }, callback: minusFmt }
            }
        }
    }
});

// ---------- middle panel: RVs and GP predictions ----------
new Chart(document.getElementById('rvChart'), {
    type: 'scatter',
    data: { datasets: [
        { data: toXY(trainingRV), showLine: false, pointStyle: starPoint, pointRadius: 13, order: 0 },
        lineSet(twoLatentGPs, PURPLE, 3, 1),
        lineSet(oneLatentGP, SAND, 3, 2),
        lineSet(serialGP, TEAL, 3, 3),
        lineSet(oneGP, INDIGO, 3, 4),
        lineSet(twoLatentGPs, 'rgba(170,68,153,0.2)', 11, 5),
        lineSet(oneLatentGP, 'rgba(221,204,119,0.3)', 11, 6),
        lineSet(serialGP, 'rgba(68,170,153,0.18)', 9, 7),
        lineSet(oneGP, 'rgba(51,34,136,0.15)', 9, 8),
        dotSet(rvSeason1, '#000', 2.9, 9),
        dotSet(rvSeason2, '#000', 2.9, 10)
    ]},
    plugins: plugins,
    options: {
        responsive: false, devicePixelRatio: 1,
        layout: { padding: { top: 23, right: 17, bottom: 26, left: 0 } },
        plugins: {
            legend: { display: false }, tooltip: { enabled: false },
            frame: { xMinor: 2, xMajor: 10, yMinor: 50, yMajor: 200 },
            zeroLine: { color: '#bdbdbd', width: 1.6, dash: [8, 5] },
            legendBox: { items: [
                { kind: 'star', x: 364, y: 58, tx: 401, text: 'Training RVs' },
                { kind: 'line', color: INDIGO, x: 677, y: 58, tx: 744, text: 'One GP' },
                { kind: 'line', color: TEAL, x: 677, y: 96, tx: 744, text: 'Serial GP' },
                { kind: 'line', color: SAND, x: 1080, y: 58, tx: 1148, text: 'One Latent GP' },
                { kind: 'line', color: PURPLE, x: 1080, y: 96, tx: 1148, text: 'Two Latent GPs' }
            ] }
        },
        scales: {
            x: { type: 'linear', display: false, min: 14.59, max: 82.43 },
            y: {
                min: -200, max: 300,
                afterFit: function (s) { s.width = 124; },
                grid: hiddenGrid(), border: { display: false },
                ticks: { stepSize: 200, includeBounds: false, padding: 6, font: { size: 27 }, callback: minusFmt },
                title: { display: true, text: 'RV (m s\u207B\u00B9)', font: { size: 37, lineHeight: 1.2 }, padding: { top: 8, bottom: 0 } }
            }
        }
    }
});

// ---------- bottom panel: residuals ----------
new Chart(document.getElementById('resChart'), {
    type: 'scatter',
    data: { datasets: [
        dotSet(resOneGP, 'rgba(51,34,136,0.42)', 4, 0),
        dotSet(resSerialGP, 'rgba(60,110,165,0.4)', 4, 1),
        dotSet(resTwoLatent, 'rgba(200,100,185,0.3)', 4, 2),
        dotSet(resOneLatent, 'rgba(221,204,119,0.45)', 4, 3)
    ]},
    plugins: plugins,
    options: {
        responsive: false, devicePixelRatio: 1,
        layout: { padding: { top: 12, right: 17, bottom: 0, left: 0 } },
        plugins: {
            legend: { display: false }, tooltip: { enabled: false },
            frame: { xMinor: 2, xMajor: 10, yMinor: 20, yMajor: 100 },
            zeroLine: { color: '#8a8a8a', width: 2, above: true }
        },
        scales: {
            x: {
                type: 'linear', min: 14.59, max: 82.43,
                afterFit: function (s) { s.height = 75; },
                grid: hiddenGrid(), border: { display: false },
                ticks: { stepSize: 10, includeBounds: false, autoSkip: false, maxRotation: 0, padding: 3, font: { size: 28 } },
                title: { display: true, text: 'Time (day)', font: { size: 36, lineHeight: 1.2 }, padding: { top: 0, bottom: 0 } }
            },
            y: {
                min: -129, max: 138,
                afterFit: function (s) { s.width = 124; },
                grid: hiddenGrid(), border: { display: false },
                ticks: { stepSize: 100, includeBounds: false, padding: 3, font: { size: 17 }, callback: minusFmt },
                title: { display: true, text: ['Residuals', '(m s\u207B\u00B9)'], font: { size: 23, lineHeight: 1.45 }, padding: { top: 18, bottom: 0 } }
            }
        }
    }
});
</script>
</body>
</html>
